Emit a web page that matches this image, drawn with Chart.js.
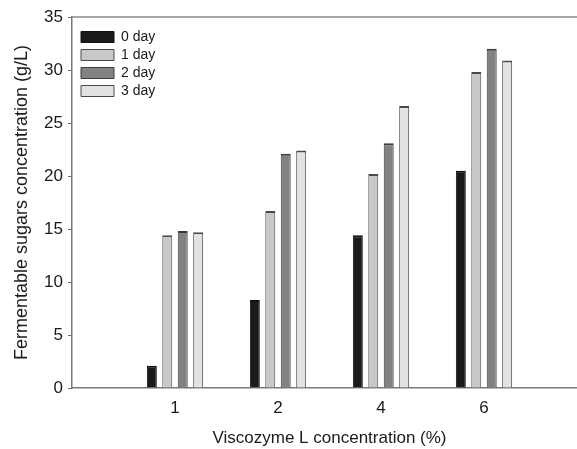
<!DOCTYPE html>
<html>
<head>
<meta charset="utf-8">
<script src="https://cdn.jsdelivr.net/npm/chart.js@4/dist/chart.umd.min.js"></script>
<style>
    body { margin: 0; overflow: hidden; background: #fff; }
    #wrap { width: 600px; height: 449px; }
</style>
</head>
<body>
<div id="wrap"><canvas id="sugarChart" width="600" height="449"></canvas></div>
<script>
const categories = ['1', '2', '4', '6'];
const xPositions = [1, 2, 3, 4];
const seriesNames = ['0 day', '1 day', '2 day', '3 day'];
const day0 = [2.1, 8.3, 14.4, 20.5];
const day1 = [14.4, 16.7, 20.2, 29.8];
const day2 = [14.8, 22.1, 23.1, 32.0];
const day3 = [14.7, 22.4, 26.6, 30.9];
const yTicks = [0, 5, 10, 15, 20, 25, 30, 35];

const fills = ['#1a1a1a', '#c8c8c8', '#828282', '#e2e2e2'];
const strokes = ['#111111', '#4a4a4a', '#3c3c3c', '#4a4a4a'];
const fontFamily = "'Liberation Sans', Arial, sans-serif";

function toPoints(values) {
    return values.map((v, i) => ({ x: xPositions[i], y: v }));
}

const allSeries = [day0, day1, day2, day3];
const datasets = allSeries.map((values, i) => ({
    label: seriesNames[i],
    data: toPoints(values),
    backgroundColor: fills[i],
    borderColor: strokes[i],
    borderWidth: { top: 2, left: 1, right: 1, bottom: 0 },
    borderSkipped: 'bottom',
    categoryPercentage: 0.6,
    barPercentage: 0.645
}));

// frame line along the top of the plot box
const topFrame = {
    id: 'topFrame',
    afterDraw(chart) {
        const { ctx, chartArea } = chart;
        ctx.save();
        ctx.strokeStyle = '#8a8a8a';
        ctx.lineWidth = 1.5;
        ctx.beginPath();
        ctx.moveTo(chartArea.left, chartArea.top);
        ctx.lineTo(chartArea.right, chartArea.top);
        ctx.stroke();
        ctx.restore();
    }
};

// put the legend a little inside the top-left corner of the plot
const legendInside = {
    id: 'legendInside',
    afterLayout(chart) {
        const lg = chart.legend;
        const area = chart.chartArea;
        const w = lg.width, h = lg.height;
        lg.left = area.left + 5;
        lg.top = area.top + 9;
        lg.right = lg.left + w;
        lg.bottom = lg.top + h;
    }
};

new Chart(document.getElementById('sugarChart').getContext('2d'), {
    type: 'bar',
    data: { datasets: datasets },
    options: {
        responsive: false,
        animation: false,
        layout: { padding: { top: 17, right: 13, left: 0, bottom: 0 } },
        plugins: {
            legend: {
                position: 'chartArea',
                align: 'start',
                labels: {
                    boxWidth: 33,
                    boxHeight: 11,
                    padding: 4,
                    color: '#1a1a1a',
                    font: { size: 14, family: fontFamily }
                }
            },
            tooltip: { enabled: false }
        },
        scales: {
            x: {
                type: 'linear',
                offset: false,
                min: 0,
                max: 5,
                afterFit: (scale) => { scale.height = 61; },
                afterBuildTicks: (scale) => { scale.ticks = xPositions.map(v => ({ value: v })); },
                ticks: {
                    padding: 10,
                    color: '#1a1a1a',
                    font: { size: 17, family: fontFamily },
                    callback: (v) => categories[xPositions.indexOf(v)] ?? ''
                },
                grid: { drawOnChartArea: false, drawTicks: false },
                border: { color: '#7a7a7a', width: 1.5 },
                title: {
                    display: true,
                    text: 'Viscozyme L concentration (%)',
                    color: '#1a1a1a',
                    font: { size: 17, family: fontFamily },
                    padding: { top: 0, bottom: 0 }
                }
            },
            y: {
                min: 0,
                max: 35,
                afterFit: (scale) => { scale.width = 72; },
                afterBuildTicks: (scale) => { scale.ticks = yTicks.map(v => ({ value: v })); },
                ticks: {
                    padding: 5,
                    color: '#1a1a1a',
                    font: { size: 17, family: fontFamily }
                },
                grid: { drawOnChartArea: false, tickLength: 4, color: '#6a6a6a' },
                border: { color: '#7a7a7a', width: 1.5 },
                title: {
                    display: true,
                    text: 'Fermentable sugars concentration (g/L)',
                    color: '#1a1a1a',
                    font: { size: 18, family: fontFamily },
                    padding: { top: 11, bottom: 0 }
                }
            }
        }
    },
    plugins: [topFrame, legendInside]
});
</script>
</body>
</html>
